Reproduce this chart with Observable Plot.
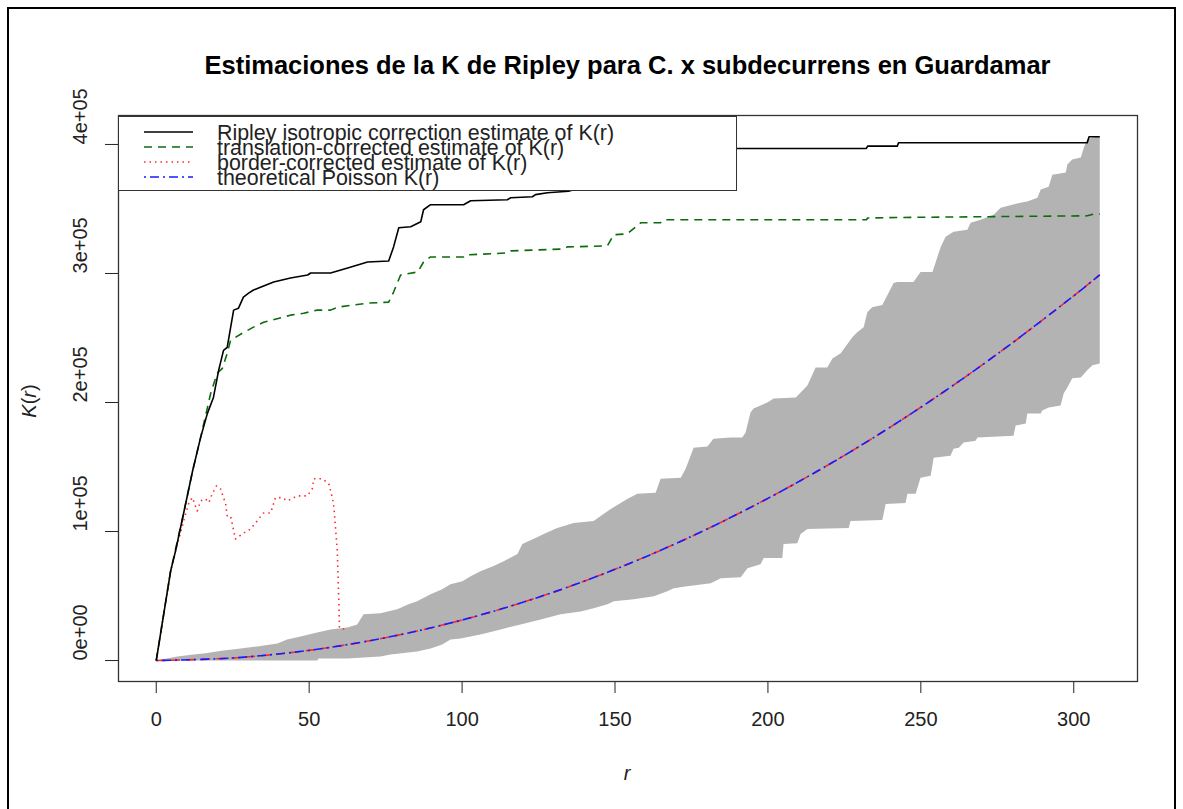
<!DOCTYPE html>
<html>
<head>
<meta charset="utf-8">
<script src="https://cdn.jsdelivr.net/npm/d3@7"></script>
<script src="https://cdn.jsdelivr.net/npm/@observablehq/plot@0.6"></script>
<style>
  body { margin: 0; background: #fff; font-family: "Liberation Sans", Arial, Helvetica, sans-serif; }
  #wrap { position: relative; width: 1183px; height: 809px; overflow: hidden; background: #fff; }
  #wrap > svg { position: absolute; left: 0; top: 0; }
  #border { position: absolute; left: 7px; top: 7px; width: 1169px; height: 840px; border: 2px solid #000; box-sizing: border-box; pointer-events: none; }
  #title { position: absolute; left: 118px; width: 1019px; top: 51px; text-align: center; font-weight: bold; font-size: 25.5px; color: #000; white-space: nowrap; }
  #ylab { position: absolute; left: 29px; top: 401px; transform: translate(-50%, -50%) rotate(-90deg); font-size: 20px; white-space: nowrap; color: #222; }
  #xlab { position: absolute; left: 627px; top: 773px; transform: translate(-50%, -50%); font-size: 20px; font-style: italic; color: #222; }
  #legend { position: absolute; left: 118px; top: 116px; width: 619px; height: 75px; background: #fff; border: 1.3px solid #333; box-sizing: border-box; }
</style>
</head>
<body>
<div id="wrap">
  <div id="title"></div>
  <div id="ylab"><i>K</i>(<i>r</i>)</div>
  <div id="xlab">r</div>
  <div id="legend"></div>
  <div id="border"></div>
</div>
<script>
// Chart texts
const titleText = "Estimaciones de la K de Ripley para C. x subdecurrens en Guardamar";
const xTicks = [0, 50, 100, 150, 200, 250, 300];
const yTicks = [0, 100000, 200000, 300000, 400000];
const yTickLabels = ["0e+00", "1e+05", "2e+05", "3e+05", "4e+05"];
const legendLabels = [
  "Ripley isotropic correction estimate of K(r)",
  "translation-corrected estimate of K(r)",
  "border-corrected estimate of K(r)",
  "theoretical Poisson K(r)"
];

// Ripley isotropic correction estimate [r, K(r)]
const isoK = [[0,0],[4.7,69300],[6.3,84800],[8.9,113600],[11.9,147100],[14.5,172800],[16.7,191400],[18.7,203900],[20.4,224900],[22.0,240400],[23.2,242800],[25.3,271600],[26.9,273100],[28.5,281700],[30.2,284800],[31.8,287200],[35.1,290300],[38.4,293400],[43.9,296500],[49.5,298800],[50.5,300400],[57.0,300400],[62.6,304300],[69.1,308900],[76.0,309700],[77.6,320600],[79.3,335400],[83.2,336200],[86.5,340100],[87.4,349400],[89.7,353300],[100.5,353300],[102.8,356400],[114.8,357200],[115.9,358700],[123.0,359500],[124.0,361100],[127.9,362600],[134.8,363700],[145,371000],[158,380000],[170,388000],[180,394000],[186,396900],[232.2,396900],[232.6,398700],[242.3,398700],[242.7,401300],[304.4,401300],[305.0,406000],[308.5,406000]];

// Translation-corrected estimate [r, K(r)]
const transK = [[0,0],[4.7,69300],[8.9,113600],[11.9,147100],[14.5,172800],[17.8,207000],[19.9,222600],[21.6,226400],[23.2,238100],[24.3,248200],[28.1,253700],[31.8,258400],[35.1,262200],[43.9,267700],[48.2,269200],[52.7,271600],[57.0,271600],[59.3,273900],[69.1,277000],[76.0,277800],[77.6,285600],[79.9,298800],[85.5,301200],[87.4,308900],[89.7,312800],[100.5,312800],[101.1,314400],[114.8,315900],[115.9,317500],[133.2,319000],[134.4,320600],[147.5,321400],[149.6,330000],[154.0,330700],[158.4,339300],[164.9,339300],[165.9,341600],[232.2,341600],[232.6,343000],[242.3,343400],[304.4,344700],[306.5,346000],[308.5,346000]];

// Border-corrected estimate [r, K(r)]
const borderK = [[0,0],[4.7,69300],[6.3,84800],[9.6,113600],[10.7,122400],[11.8,126300],[13.4,116000],[14.5,123700],[16.1,125300],[17.2,122400],[18.3,129200],[19.7,135400],[21.0,133100],[22.7,121400],[23.2,112100],[24.3,112100],[25.9,94200],[28.1,98100],[30.8,101900],[33.0,108200],[35.1,114400],[37.4,114400],[39.0,126300],[41.2,126300],[42.8,123700],[46.1,127600],[49.4,127600],[51.0,133100],[51.5,140900],[54.3,140900],[56.4,137000],[57.6,126300],[58.1,118500],[59.2,84800],[59.7,45900],[59.9,25100],[62.5,24100]];

// Theoretical Poisson K(r) [r, K(r)]
const theoK = [[0,0],[25,2000],[50,7900],[75,17700],[100,31400],[125,49100],[150,70700],[175,96200],[200,125700],[225,159000],[250,196300],[275,237600],[300,282700],[308.5,299000]];

// Simulation envelope: upper and lower limits [r, K(r)]
const envHi = [[0,0],[6.9,3100],[12.2,4700],[15.5,5400],[22.0,7800],[27.6,9300],[33.0,10900],[39.6,13200],[42.8,16300],[47.2,18700],[52.6,21800],[57.0,24100],[62.5,25700],[65.7,28000],[67.8,35800],[73.3,36600],[78.8,39700],[82.5,43600],[85.3,45900],[89.7,51400],[93.5,55300],[96.2,59100],[100.1,61500],[102.8,65400],[106.0,69300],[110.3,73200],[113.6,77000],[118.1,82500],[119.7,90300],[124.0,94900],[126.7,98100],[131.1,102700],[136.5,106600],[143.0,108200],[145.3,112100],[148.6,117500],[154.0,125300],[157.3,129200],[163.3,130000],[164.9,140900],[171.5,141600],[173.1,148600],[175.7,165000],[180.2,165800],[182.2,172000],[187.8,172800],[191.6,172800],[192.7,176700],[194.3,192200],[195.3,195300],[197.6,197700],[199.8,200000],[201.9,203100],[209.1,203900],[210.7,207800],[212.9,213200],[215.6,227200],[219.4,227200],[221.1,234200],[223.8,238100],[227.6,250600],[229.2,254500],[231.3,258400],[232.5,270000],[234.1,273900],[237.4,275500],[241.1,292600],[242.3,293400],[247.6,293400],[249.9,301200],[253.8,301200],[255.4,312800],[256.5,320600],[258.1,328400],[260.7,332300],[265.2,333800],[266.3,339300],[269.5,341600],[273.8,345500],[276.1,351000],[282.6,354900],[284.8,355700],[288.1,358700],[289.2,365000],[291.8,367300],[293.0,376600],[297.4,378200],[297.9,384400],[299.5,388300],[302.3,389900],[303.3,397700],[304.4,403900],[306.1,405400],[308.5,406200]];
const envLo = [[0,0],[52.6,0],[53.1,1600],[62.5,1600],[73.3,3100],[76.6,4700],[85.3,7000],[89.7,9300],[93.5,12500],[96.2,16300],[99.5,17100],[106.0,20200],[112.6,24100],[119.1,28000],[125.7,31900],[132.2,35800],[138.8,38100],[143.0,40500],[147.5,43600],[149.6,45900],[156.1,47500],[162.7,49800],[167.1,53700],[169.2,56000],[173.6,57600],[181.3,59900],[184.6,63800],[191.1,64600],[193.3,71600],[197.6,74700],[198.6,79400],[204.7,79400],[205.1,90300],[209.6,91000],[210.7,98100],[212.9,101900],[226.4,102700],[227.0,108200],[237.4,108900],[238.5,121400],[245.0,122200],[245.6,129200],[248.3,129200],[249.9,141600],[253.2,143200],[254.2,157200],[259.7,158800],[260.7,164200],[262.4,165000],[264.0,168900],[267.9,170400],[268.5,172800],[280.3,174300],[281.0,182100],[284.3,183700],[284.8,191400],[289.2,191400],[289.7,193800],[291.8,196100],[295.7,197700],[296.7,207000],[297.9,211700],[299.5,218700],[302.3,219400],[304.4,224900],[306.1,228800],[308.5,230300]];

// Line styles for each estimate
const styles = {
  iso:    { stroke: "#000000", dash: null,        width: 1.6 },
  trans:  { stroke: "#0c6b0c", dash: "8,6",       width: 1.6 },
  border: { stroke: "#ff2a2a", dash: "1.5,4",     width: 1.6 },
  theo:   { stroke: "#1a1aff", dash: "2,4,9,4",   width: 1.6 },
  envTheo:{ stroke: "#ff2a2a", dash: "9,6",       width: 1.6 }
};

const toRows = arr => arr.map(([r, k]) => ({ r, k }));
// Closed outline of the envelope: upper limit forward, lower limit backward
const bandOutline = toRows(envHi).concat(toRows(envLo).reverse());

const rMax = 308.5, kMax = 406200;
const xPad = rMax * 0.04, yPad = kMax * 0.04;

function lineMark(arr, s, extra = {}) {
  return Plot.line(toRows(arr), {
    x: "r", y: "k", stroke: s.stroke, strokeWidth: s.width,
    strokeDasharray: s.dash || undefined, strokeLinecap: "butt", ...extra
  });
}

const chart = Plot.plot({
  width: 1183,
  height: 809,
  marginLeft: 118,
  marginRight: 46,
  marginTop: 115,
  marginBottom: 128,
  style: { fontFamily: "'Liberation Sans', Arial, Helvetica, sans-serif", fontSize: "20px", color: "#222", background: "transparent" },
  x: { domain: [-xPad, rMax + xPad], ticks: xTicks, tickSize: 12, tickPadding: 18, tickFormat: d => String(d), label: null },
  y: { domain: [-yPad, kMax + yPad], ticks: yTicks, tickSize: 13, tickFormat: () => "", label: null },
  marks: [
    Plot.line(bandOutline, { x: "r", y: "k", fill: "#b3b3b3", stroke: "none", curve: "linear" }),
    lineMark(theoK, styles.envTheo, { curve: "catmull-rom" }),
    lineMark(theoK, styles.theo, { curve: "catmull-rom" }),
    lineMark(borderK, styles.border),
    lineMark(transK, styles.trans),
    lineMark(isoK, styles.iso),
    Plot.frame({ stroke: "#333", strokeWidth: 1.3 }),
    Plot.text(yTicks, { y: d => d, text: (d, i) => yTickLabels[i], frameAnchor: "left", dx: -38, rotate: -90, fontSize: 20, fill: "#222" })
  ]
});
document.getElementById("wrap").prepend(chart);
document.getElementById("title").textContent = titleText;

// Legend box in the top-left corner of the panel
const legendStyles = [styles.iso, styles.trans, styles.border, styles.theo];
const lg = d3.select("#legend").append("svg").attr("width", 617).attr("height", 73);
const rowY = [15, 30, 45, 60];
legendLabels.forEach((label, i) => {
  const s = legendStyles[i];
  lg.append("line")
    .attr("x1", 25).attr("x2", 74).attr("y1", rowY[i]).attr("y2", rowY[i])
    .attr("stroke", s.stroke).attr("stroke-width", s.width)
    .attr("stroke-dasharray", s.dash);
  lg.append("text")
    .attr("x", 98).attr("y", rowY[i]).attr("dy", "0.36em")
    .attr("font-size", 21.4).attr("fill", "#222")
    .attr("font-family", "'Liberation Sans', Arial, sans-serif")
    .text(label);
});
</script>
</body>
</html>
